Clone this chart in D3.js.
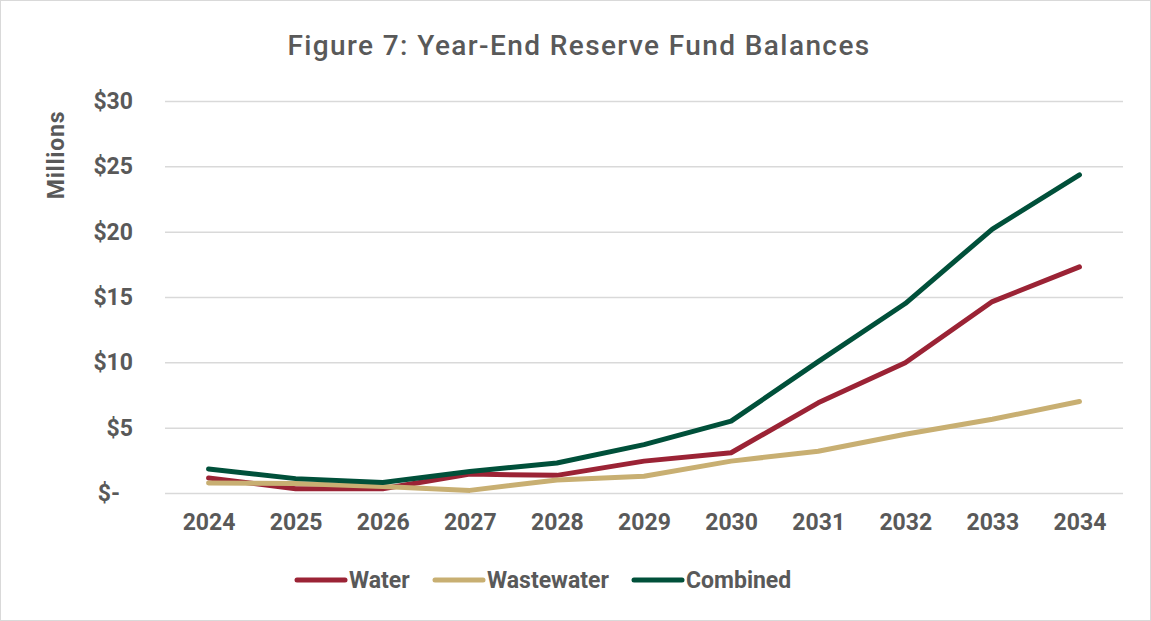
<!DOCTYPE html>
<html>
<head>
<meta charset="utf-8">
<script src="https://cdn.jsdelivr.net/npm/d3@7"></script>
<style>
  body { margin: 0; background: #fff; }
  text { font-family: "Roboto", "Liberation Sans", sans-serif; fill: #595959; }
</style>
</head>
<body>
<div id="chart"></div>
<script>
var years = ["2024", "2025", "2026", "2027", "2028", "2029", "2030", "2031", "2032", "2033", "2034"];
var water = [1.15, 0.33, 0.33, 1.45, 1.35, 2.44, 3.08, 6.9, 9.97, 14.65, 17.3];
var wastewater = [0.77, 0.72, 0.5, 0.2, 1.0, 1.28, 2.44, 3.2, 4.5, 5.64, 7.0];
var combined = [1.84, 1.1, 0.81, 1.65, 2.3, 3.7, 5.5, 10.05, 14.5, 20.2, 24.35];
var yTicks = [0, 5, 10, 15, 20, 25, 30];

var seriesNames = ["Water", "Wastewater", "Combined"];
var seriesColors = ["#9B2335", "#C8AF72", "#00503A"];
var seriesValues = [water, wastewater, combined];

const WIDTH = 1151;
const HEIGHT = 621;
const GRID_COLOR = "#D9D9D9";

var svg = d3.select("#chart")
    .append("svg")
    .attr("width", WIDTH)
    .attr("height", HEIGHT);

// outer border
svg.append("rect")
    .attr("x", 0.5).attr("y", 0.5)
    .attr("width", WIDTH - 1).attr("height", HEIGHT - 1)
    .attr("fill", "#fff")
    .attr("stroke", GRID_COLOR);

var x = d3.scalePoint()
    .domain(years)
    .range([165, 1123])
    .padding(0.5);

var y = d3.scaleLinear()
    .domain([0, 30])
    .range([493, 101]);

// title
svg.append("text")
    .attr("x", 579)
    .attr("y", 55)
    .attr("text-anchor", "middle")
    .style("font-size", "28px")
    .style("font-weight", 500)
    .style("letter-spacing", "1.4px")
    .text("Figure 7: Year-End Reserve Fund Balances");

// y axis label
svg.append("text")
    .attr("transform", "translate(64,155) rotate(-90)")
    .attr("text-anchor", "middle")
    .style("font-size", "23px")
    .style("font-weight", "bold")
    .style("letter-spacing", "0.8px")
    .text("Millions");

// gridlines + y tick labels
var yAxis = svg.append("g")
    .attr("transform", "translate(165,0)")
    .call(d3.axisLeft(y)
        .tickValues(yTicks)
        .tickSize(-(1123 - 165))
        .tickPadding(32)
        .tickFormat(function (d) { return d === 0 ? "$-" : "$" + d; }));

yAxis.select(".domain").remove();
yAxis.selectAll(".tick line")
    .attr("stroke", GRID_COLOR)
    .attr("stroke-width", 1.5);
yAxis.selectAll(".tick text")
    .style("font-size", "23px")
    .style("font-weight", "bold")
    .attr("fill", "#595959")
    .attr("dx", function (d) { return d === 0 ? -13 : 0; });

// x tick labels
var xAxis = svg.append("g")
    .attr("transform", "translate(0,493)")
    .call(d3.axisBottom(x).tickSize(0).tickPadding(21));

xAxis.select(".domain").remove();
xAxis.selectAll(".tick text")
    .style("font-size", "23px")
    .style("font-weight", "bold")
    .attr("fill", "#595959");

// lines
var line = d3.line()
    .x(function (d, i) { return x(years[i]); })
    .y(function (d) { return y(d); });

seriesValues.forEach(function (vals, i) {
    svg.append("path")
        .datum(vals)
        .attr("fill", "none")
        .attr("stroke", seriesColors[i])
        .attr("stroke-width", 5)
        .attr("stroke-linecap", "round")
        .attr("stroke-linejoin", "round")
        .attr("d", line);
});

// legend
var legendX = [297, 435, 634];
var legend = svg.append("g");
seriesNames.forEach(function (name, i) {
    legend.append("line")
        .attr("x1", legendX[i]).attr("x2", legendX[i] + 48)
        .attr("y1", 580).attr("y2", 580)
        .attr("stroke", seriesColors[i])
        .attr("stroke-width", 5)
        .attr("stroke-linecap", "round");
    legend.append("text")
        .attr("x", legendX[i] + 52)
        .attr("y", 588)
        .style("font-size", "23px")
        .style("font-weight", "bold")
        .text(name);
});
</script>
</body>
</html>
